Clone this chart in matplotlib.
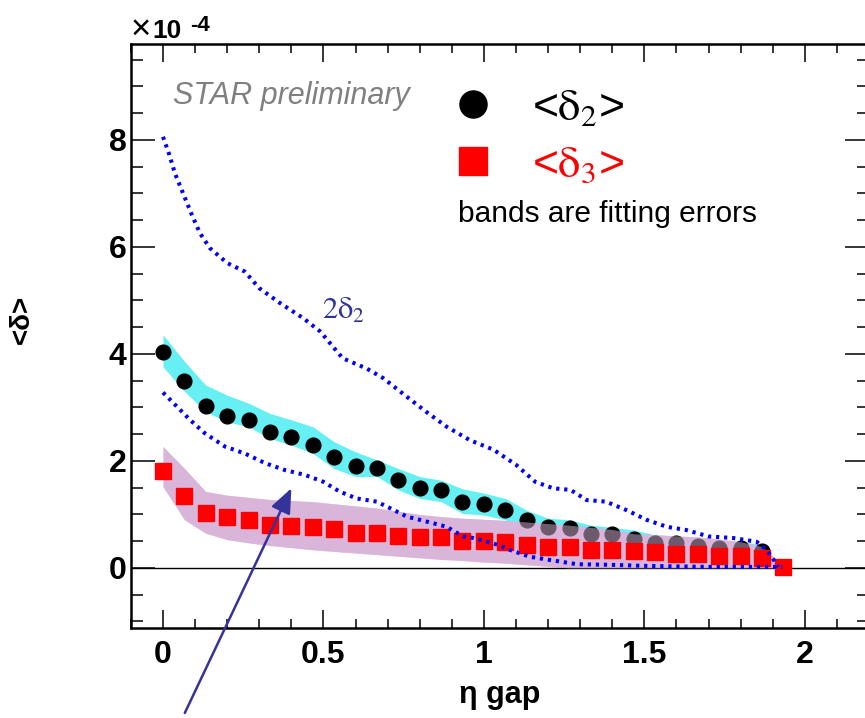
import numpy as np
import matplotlib
matplotlib.use('Agg')
import matplotlib.pyplot as plt
from matplotlib.font_manager import FontProperties
from matplotlib.lines import Line2D
from matplotlib.ticker import MultipleLocator, FuncFormatter

plt.rcParams['font.family'] = ['Liberation Sans', 'DejaVu Sans']

# ---------------- data (units of 1e-4) ----------------
eta_gap = [0.000, 0.067, 0.133, 0.200, 0.267, 0.333, 0.400, 0.467, 0.533, 0.600,
           0.667, 0.733, 0.800, 0.867, 0.933, 1.000, 1.067, 1.133, 1.200, 1.267,
           1.333, 1.400, 1.467, 1.533, 1.600, 1.667, 1.733, 1.800, 1.867, 1.933]

delta2 = [4.03, 3.50, 3.03, 2.85, 2.77, 2.54, 2.45, 2.30, 2.07, 1.90,
          1.87, 1.64, 1.50, 1.45, 1.23, 1.19, 1.08, 0.90, 0.76, 0.75,
          0.63, 0.63, 0.55, 0.47, 0.46, 0.42, 0.37, 0.37, 0.32]
delta2_band_hi = [4.36, 3.86, 3.42, 3.23, 3.08, 2.89, 2.77, 2.64, 2.36, 2.17,
                  2.02, 1.86, 1.71, 1.64, 1.48, 1.40, 1.30, 1.08, 0.93, 0.90,
                  0.80, 0.76, 0.71, 0.62, 0.60, 0.56, 0.50, 0.49, 0.44]
delta2_band_lo = [3.76, 3.30, 2.92, 2.73, 2.64, 2.42, 2.30, 2.14, 1.86, 1.71,
                  1.71, 1.46, 1.30, 1.24, 1.02, 0.99, 0.90, 0.74, 0.62, 0.60,
                  0.48, 0.48, 0.40, 0.34, 0.32, 0.28, 0.24, 0.24, 0.20]

delta3 = [1.82, 1.35, 1.03, 0.96, 0.90, 0.81, 0.79, 0.77, 0.72, 0.66,
          0.66, 0.60, 0.57, 0.57, 0.51, 0.51, 0.49, 0.43, 0.40, 0.40,
          0.34, 0.34, 0.32, 0.29, 0.26, 0.26, 0.23, 0.23, 0.19, 0.02]
delta3_band_hi = [2.27, 1.86, 1.43, 1.36, 1.32, 1.28, 1.26, 1.24, 1.20, 1.16,
                  1.12, 1.06, 1.00, 0.96, 0.93, 0.91, 0.89, 0.86, 0.83, 0.80,
                  0.76, 0.72, 0.64, 0.62, 0.60, 0.58, 0.54, 0.49, 0.40, 0.04]
delta3_band_lo = [1.52, 0.90, 0.65, 0.53, 0.47, 0.42, 0.38, 0.34, 0.31, 0.28,
                  0.25, 0.22, 0.19, 0.16, 0.14, 0.11, 0.09, 0.06, 0.03, 0.00,
                  0.00, 0.00, 0.00, 0.00, 0.00, 0.00, 0.00, 0.00, 0.00, 0.00]

# upper dotted curve (2 delta2)
two_d2_x = [0.000, 0.020, 0.037, 0.058, 0.090, 0.115, 0.146, 0.200, 0.255, 0.300,
            0.365, 0.437, 0.490, 0.560, 0.634, 0.686, 0.760, 0.820, 0.884, 0.956,
            1.030, 1.100, 1.160, 1.216, 1.270, 1.320, 1.380, 1.445, 1.507, 1.570,
            1.630, 1.700, 1.777, 1.850, 1.880, 1.900, 1.917]
two_d2_y = [8.06, 7.72, 7.38, 7.07, 6.60, 6.26, 5.98, 5.70, 5.54, 5.23,
            4.95, 4.67, 4.42, 3.92, 3.73, 3.55, 3.20, 2.92, 2.64, 2.39,
            2.21, 1.93, 1.61, 1.49, 1.46, 1.27, 1.24, 1.08, 0.90, 0.77,
            0.71, 0.59, 0.56, 0.49, 0.34, 0.18, 0.02]

# lower dotted curve
low_x = [0.000, 0.043, 0.084, 0.130, 0.193, 0.255, 0.318, 0.380, 0.442, 0.500,
         0.550, 0.603, 0.666, 0.707, 0.760, 0.820, 0.884, 0.935, 0.967, 1.030,
         1.080, 1.143, 1.216, 1.290, 1.390, 1.500, 1.600, 1.700, 1.800, 1.900, 1.930]
low_y = [3.28, 3.02, 2.77, 2.52, 2.27, 2.14, 1.96, 1.83, 1.74, 1.61,
         1.43, 1.30, 1.24, 1.12, 0.96, 0.87, 0.77, 0.59, 0.56, 0.46,
         0.34, 0.21, 0.14, 0.07, 0.06, 0.04, 0.03, 0.02, 0.02, 0.02, 0.02]

x_ticks = [0, 0.5, 1, 1.5, 2]
y_ticks = [0, 2, 4, 6, 8]

# ---------------- figure ----------------
W, H = 865, 718
fig = plt.figure(figsize=(W / 100, H / 100), dpi=100)
ax = fig.add_axes([130.9 / W, 1 - 627.9 / H, (869 - 130.9) / W, (627.9 - 43.7) / H])
ax.set_xlim(-0.1, 2.2)
ax.set_ylim(-1.12, 9.8)

n2 = len(delta2)
x2 = eta_gap[:n2]

pink = '#dab5da'
ax.fill_between(x2, delta2_band_lo, delta2_band_hi, color='#66f0f4', lw=0, zorder=1)
ax.fill_between(eta_gap, delta3_band_lo, delta3_band_hi, color=pink, lw=0, zorder=2)
ax.axhline(0, color='black', lw=1.0, zorder=2.5)
ax.plot(x2, delta2, ls='none', marker='o', ms=10.6, color='black', zorder=3)
ax.fill_between(eta_gap, delta3_band_lo, delta3_band_hi, color=pink, alpha=0.5, lw=0, zorder=4)
ax.plot(eta_gap, delta3, ls='none', marker='s', ms=11, color='red', mec='red', zorder=5)

dot = (0, (0.8, 1.2))
ax.plot(two_d2_x, two_d2_y, color='#0000ff', lw=2.9, ls=dot, zorder=6)
ax.plot(low_x, low_y, color='#0000ff', lw=2.9, ls=dot, zorder=6)

# ticks
ax.set_xticks(x_ticks)
ax.set_yticks(y_ticks)
ax.xaxis.set_minor_locator(MultipleLocator(0.1))
ax.yaxis.set_minor_locator(MultipleLocator(0.5))
fmt = FuncFormatter(lambda v, p: '%g' % v)
ax.xaxis.set_major_formatter(fmt)
ax.yaxis.set_major_formatter(fmt)
ax.tick_params(which='both', direction='in', top=True, right=True, width=1.1)
ax.tick_params(axis='x', which='major', length=13, pad=9)
ax.tick_params(axis='x', which='minor', length=6.5)
ax.tick_params(axis='y', which='major', length=17, pad=3)
ax.tick_params(axis='y', which='minor', length=8.6)
for lab in ax.get_xticklabels() + ax.get_yticklabels():
    lab.set_fontsize(23)
    lab.set_fontweight('bold')
for s in ax.spines.values():
    s.set_linewidth(1.8)

# axis titles
fig.text(500 / W, 1 - 695 / H, 'η gap', ha='center', va='center', fontsize=22, fontweight='bold')
fig.text(22 / W, 1 - 319 / H, '<δ>', ha='center', va='center', rotation=90, fontsize=20, fontweight='bold')

# exponent
fig.text(131 / W, 1 - 39 / H, '×', ha='left', va='baseline', fontsize=25)
fig.text(152 / W, 1 - 38 / H, '10', ha='left', va='baseline', fontsize=19, fontweight='bold')
fig.text(190 / W, 1 - 31 / H, '-4', ha='left', va='baseline', fontsize=16, fontweight='bold')

# annotations
fig.text(173 / W, 1 - 104 / H, 'STAR preliminary', ha='left', va='baseline', fontsize=22,
         style='italic', color='#808080')
ax.text(0.495, 4.65, r'$\mathrm{2\delta_2}$', ha='left', va='baseline', fontsize=22,
        color='#333399', math_fontfamily='stix')
ax.annotate('', xy=(0.40, 1.49), xytext=(0.068, -2.71), annotation_clip=False,
            arrowprops=dict(arrowstyle='-|>,head_length=0.6,head_width=0.25',
                            color='#333399', lw=1.8, mutation_scale=25,
                            shrinkA=0, shrinkB=0), zorder=7)

# legend
fp = FontProperties(family='Liberation Sans', size=32, math_fontfamily='stix')
handles = [Line2D([], [], ls='none', marker='o', ms=19.5, color='black'),
           Line2D([], [], ls='none', marker='s', ms=20, color='red', mec='red')]
ax.legend(handles, [r'<$\mathrm{\delta_2}$>', r'<$\mathrm{\delta_3}$>'], prop=fp,
          labelcolor=['black', 'red'],
          frameon=False, loc='upper left', bbox_to_anchor=(451 / W, 1 - 88 / H),
          bbox_transform=fig.transFigure, handlelength=1.0, handletextpad=0.82,
          borderpad=0, borderaxespad=0, labelspacing=0.36)
fig.text(458 / W, 1 - 222 / H, 'bands are fitting errors', ha='left', va='baseline', fontsize=21.5)

fig.savefig('out.png', dpi=100)
